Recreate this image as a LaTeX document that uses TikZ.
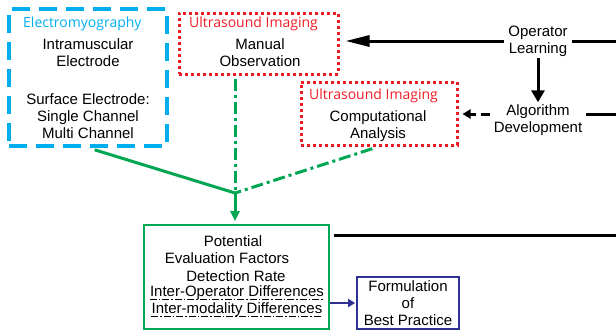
\documentclass[tikz,border=0pt]{standalone}
\usepackage{fontspec}
\setmainfont{Liberation Sans}
\newfontfamily\labfont{Open Sans}
\usetikzlibrary{arrows.meta,calc}
\definecolor{emgcyan}{RGB}{0,174,239}
\definecolor{usred}{RGB}{237,28,36}
\definecolor{grn}{RGB}{0,166,81}
\definecolor{navy}{RGB}{46,49,146}
\tikzset{
  x=1pt,y=-1pt,
  txt/.style={inner sep=0pt,align=center,font=\fontsize{15}{17}\selectfont},
  lab/.style={inner sep=0pt,anchor=west,font=\labfont\fontsize{14}{16}\selectfont},
  emgbox/.style={draw=emgcyan,line width=3.5pt,dash pattern=on 18pt off 9pt,inner sep=0pt},
  usbox/.style={draw=usred,line width=3pt,dash pattern=on 3pt off 3pt,inner sep=0pt},
  grnbox/.style={draw=grn,line width=1.8pt,inner sep=0pt},
  navybox/.style={draw=navy,line width=1.8pt,inner sep=0pt},
  blk/.style={draw=black,line width=3pt},
  grnline/.style={draw=grn,line width=3pt},
  dashdot/.style={dash pattern=on 12pt off 4pt on 3pt off 4pt},
  ul/.style={draw=black,line width=1.3pt,dash pattern=on 7pt off 2pt on 1.5pt off 2pt},
}
\begin{document}
\begin{tikzpicture}
\useasboundingbox (0,0) rectangle (616,330);
% boxes
\node[emgbox,minimum width=158pt,minimum height=137pt] (emg) at (88,77.5) {};
\node[usbox,minimum width=159pt,minimum height=61pt] (manual) at (258.5,43.5) {};
\node[usbox,minimum width=156pt,minimum height=63pt] (comp) at (379,113.5) {};
\node[grnbox,minimum width=185pt,minimum height=104pt] (pot) at (236.5,277) {};
\node[navybox,minimum width=102pt,minimum height=52pt] (best) at (408,303) {};
% labels
\node[lab,text=emgcyan] (emglab) at (23,24) {Electromyography};
\node[lab,text=usred] (manlab) at (189,24) {Ultrasound Imaging};
\node[lab,text=usred] (complab) at (309,96) {Ultrasound Imaging};
% texts
\node[txt] (intra) at (88,53) {Intramuscular\\Electrode};
\node[txt] (surf) at (88,116) {Surface Electrode:\\Single Channel\\Multi Channel};
\node[txt] (mantxt) at (260,53) {Manual\\Observation};
\node[txt] (comptxt) at (378,126) {Computational\\Analysis};
\node[txt] (oplearn) at (538,41) {Operator\\Learning};
\node[txt] (algdev) at (538,120) {Algorithm\\Development};
\node[txt] (p1) at (233,241) {Potential};
\node[txt] (p2) at (227,258) {Evaluation Factors};
\node[txt] (p3) at (236,276) {Detection Rate};
\node[txt] (p4) at (237,293) {Inter-Operator Differences};
\node[txt] (p5) at (237,310) {Inter-modality Differences};
\node[txt] (besttxt) at (408,303) {Formulation\\of\\Best Practice};
% underlines
\draw[ul] ([yshift=-2.5pt]p4.base west) -- ([yshift=-2.5pt]p4.base east);
\draw[ul] ([yshift=-2.5pt]p5.base west) -- ([yshift=-2.5pt]p5.base east);
% right-edge coordinates
\coordinate (r1) at (616,41);
\coordinate (r2) at (616,114);
\coordinate (r3) at (616,235);
\coordinate (j) at (235,193);
% black connectors
\draw[blk,-{Triangle[length=24pt,width=11pt]},shorten >=6pt] ([xshift=-4pt]oplearn.west |- r1) -- (manual.east |- r1);
\draw[blk] ([xshift=4pt]oplearn.east |- r1) -- (r1);
\draw[blk,-{Triangle[length=12pt,width=13pt]}] ([yshift=-2pt]oplearn.south) -- ([yshift=2pt]algdev.north);
\draw[blk,dash pattern=on 9pt off 5pt,-{Triangle[length=8pt,width=9pt]},shorten >=4pt] ([xshift=-4pt]algdev.west |- r2) -- (comp.east |- r2);
\draw[blk] ([xshift=4pt]algdev.east |- r2) -- (r2);
\draw[blk] ([xshift=4pt]pot.east |- r3) -- (r3);
% green connectors
\draw[grnline,shorten <=7pt] (emg.south) -- (j);
\draw[grnline,dashdot,shorten <=3pt] (j |- manual.south) -- (j);
\draw[grnline,dashdot,shorten <=7pt] (comp.south) -- (j);
\draw[grnline,-{Triangle[length=10pt,width=9pt]},shorten >=3pt] (j) -- (j |- pot.north);
% navy
\draw[navy,line width=2.5pt,-{Triangle[length=7pt,width=8pt]},shorten >=1pt] (best.west -| pot.east) -- (best.west);
\end{tikzpicture}
\end{document}
